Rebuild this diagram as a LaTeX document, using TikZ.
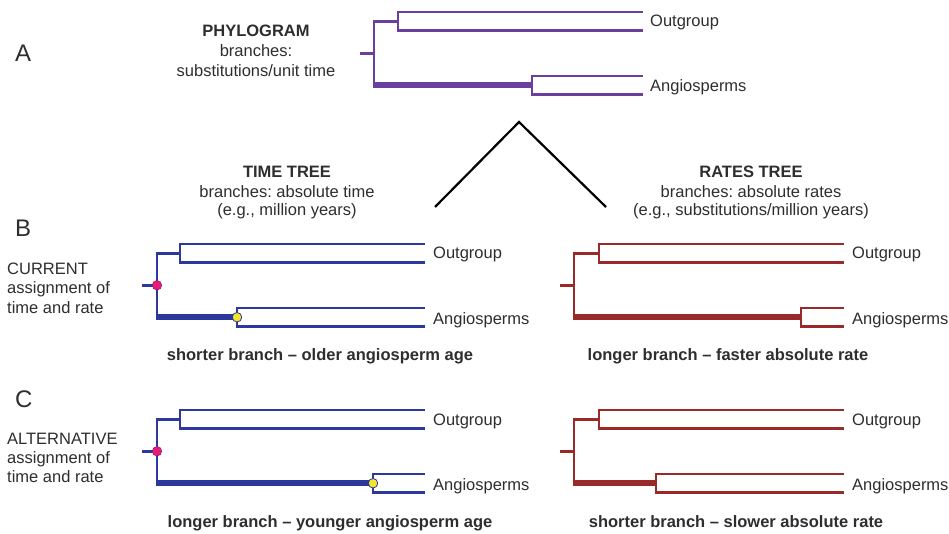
\documentclass[tikz,border=0pt]{standalone}
\usepackage{fontspec}
\setmainfont{Liberation Sans}
\frenchspacing
\definecolor{txt}{HTML}{2E2E2E}
\definecolor{purp}{HTML}{6A3F9E}
\definecolor{blu}{HTML}{2C389E}
\definecolor{rd}{HTML}{9A2A2A}
\definecolor{pnk}{HTML}{E41C7E}
\definecolor{ylw}{HTML}{F3E52C}
\newcommand\fsn{\fontsize{16.5}{20}\selectfont}
\newcommand\fsbig{\fontsize{24}{28}\selectfont}
\tikzset{
  br/.style={line width=2.6pt, line join=miter},
  thickbr/.style={line width=6.3pt},
  lbl/.style={anchor=base west, inner sep=0pt, font=\fsn, text=txt},
  ttl/.style={anchor=base, inner sep=0pt, font=\fsn, text=txt},
  ttlb/.style={anchor=base, inner sep=0pt, font=\fsn\bfseries, text=txt},
  letter/.style={anchor=base west, inner sep=0pt, font=\fsbig, text=txt},
  dotp/.style={circle, fill=pnk, draw=pnk!70!black, line width=0.5pt, minimum size=9.5pt, inner sep=0pt},
  doty/.style={circle, fill=ylw, draw=blu, line width=0.8pt, minimum size=9.5pt, inner sep=0pt},
  linkline/.style={line width=2.2pt, black},
}
% #1 name, #2 colour, #3 stub x, #4 root x, #5 outgroup node x, #6 angio node x,
% #7 tip x, #8 outgroup top y, #9 angio top y
\newcommand\phylotree[9]{%
  \begin{scope}[color=#2]
    \coordinate (#1-s)   at (#3,{(#8+#9+18.5)/2});
    \coordinate (#1-r)   at (#4,{(#8+#9+18.5)/2});
    \coordinate (#1-ro)  at (#4,{#8+9.25});
    \coordinate (#1-ra)  at (#4,{#9+9.25});
    \coordinate (#1-o)   at (#5,{#8+9.25});
    \coordinate (#1-a)   at (#6,{#9+9.25});
    \coordinate (#1-o1)  at (#5,#8);
    \coordinate (#1-o2)  at (#5,{#8+18.5});
    \coordinate (#1-ot1) at (#7,#8);
    \coordinate (#1-ot2) at (#7,{#8+18.5});
    \coordinate (#1-a1)  at (#6,#9);
    \coordinate (#1-a2)  at (#6,{#9+18.5});
    \coordinate (#1-at1) at (#7,#9);
    \coordinate (#1-at2) at (#7,{#9+18.5});
    \draw[br] (#1-s) -- (#1-r);
    \draw[br] (#1-o) -- (#1-ro) -- (#1-ra);
    \draw[br] (#1-ot1) -- (#1-o1) -- (#1-o2) -- (#1-ot2);
    \draw[br] (#1-at1) -- (#1-a1) -- (#1-a2) -- (#1-at2);
    \draw[thickbr] ([xshift=-1.3pt]#1-ra) -- (#1-a);
  \end{scope}}
\begin{document}
\begin{tikzpicture}[x=1pt,y=-1pt]
\useasboundingbox[fill=white] (0,0) rectangle (949,534);

% ---------- A: phylogram ----------
\node[letter] (lA) at (15,62) {A};
\node[ttlb] (phy1) at (256,37) {PHYLOGRAM};
\node[ttl]  (phy2) at (256,57) {branches:};
\node[ttl]  (phy3) at (256,77) {substitutions/unit time};
\phylotree{pa}{purp}{360}{374}{398}{532}{643}{12}{76}
\node[lbl] (paO) at (650,27) {Outgroup};
\node[lbl] (paA) at (650,92) {Angiosperms};

% ---------- link lines ----------
\coordinate (apex) at (519,122);
\coordinate (legL) at (435,207);
\coordinate (legR) at (606,207);
\draw[linkline] (legL) -- (apex) -- (legR);

% ---------- titles ----------
\node[ttlb] (tt1) at (287,178) {TIME TREE};
\node[ttl]  (tt2) at (287,198) {branches: absolute time};
\node[ttl]  (tt3) at (287,216) {(e.g., million years)};
\node[ttlb] (rt1) at (751,178) {RATES TREE};
\node[ttl]  (rt2) at (751,198) {branches: absolute rates};
\node[ttl]  (rt3) at (751,216) {(e.g., substitutions/million years)};

% ---------- B ----------
\node[letter] (lB) at (15,237) {B};
\node[lbl] (cur1) at (7,275) {CURRENT};
\node[lbl] (cur2) at (7,294) {assignment of};
\node[lbl] (cur3) at (7,313) {time and rate};
\phylotree{tb}{blu}{142}{157}{180}{237}{425}{244}{308}
\node[dotp] (tbp) at (tb-r) {};
\node[doty] (tby) at (tb-a) {};
\node[lbl] (tbO) at (433,259) {Outgroup};
\node[lbl] (tbA) at (433,324) {Angiosperms};
\phylotree{rb}{rd}{560}{574}{599}{801}{844}{244}{308}
\node[lbl] (rbO) at (852,259) {Outgroup};
\node[lbl] (rbA) at (852,324) {Angiosperms};
\node[ttlb] (capB1) at (320,360) {shorter branch -- older angiosperm age};
\node[ttlb] (capB2) at (728,360) {longer branch -- faster absolute rate};

% ---------- C ----------
\node[letter] (lC) at (15,407) {C};
\node[lbl] (alt1) at (7,444) {ALTERNATIVE};
\node[lbl] (alt2) at (7,463) {assignment of};
\node[lbl] (alt3) at (7,482) {time and rate};
\phylotree{tc}{blu}{142}{157}{180}{373}{425}{410}{474}
\node[dotp] (tcp) at (tc-r) {};
\node[doty] (tcy) at (tc-a) {};
\node[lbl] (tcO) at (433,425) {Outgroup};
\node[lbl] (tcA) at (433,490) {Angiosperms};
\phylotree{rc}{rd}{560}{574}{599}{656}{844}{410}{474}
\node[lbl] (rcO) at (852,425) {Outgroup};
\node[lbl] (rcA) at (852,490) {Angiosperms};
\node[ttlb] (capC1) at (330,527) {longer branch -- younger angiosperm age};
\node[ttlb] (capC2) at (736,527) {shorter branch -- slower absolute rate};
\end{tikzpicture}
\end{document}
